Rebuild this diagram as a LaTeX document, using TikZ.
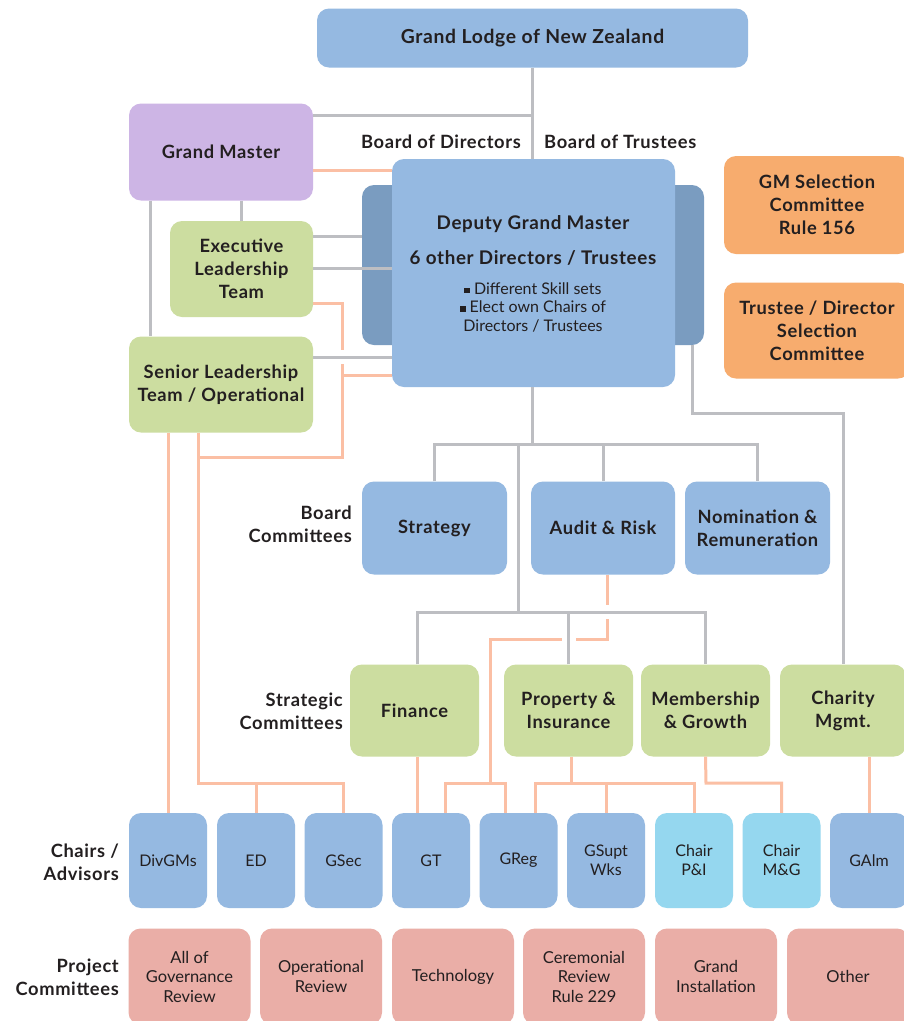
\documentclass[tikz,border=0pt]{standalone}
\usepackage{fontspec}
\setmainfont{Lato}[BoldFeatures={LetterSpace=3.5}]
\definecolor{cblue}{HTML}{95B9E1}
\definecolor{cdark}{HTML}{7A9CC0}
\definecolor{cpurp}{HTML}{CDB5E5}
\definecolor{cgreen}{HTML}{CCDDA0}
\definecolor{corange}{HTML}{F7AC6E}
\definecolor{ccyan}{HTML}{95D7EF}
\definecolor{cpink}{HTML}{EAAEA7}
\definecolor{cgrey}{HTML}{BDBEC2}
\definecolor{csalm}{HTML}{FBBFA4}
\definecolor{ctext}{HTML}{231F20}
\newcommand{\fs}[2]{\fontsize{#1}{#2}\selectfont}
\newcommand{\blt}{\rule[1pt]{5.5pt}{5.5pt}}
\begin{document}
\begin{tikzpicture}[x=1pt,y=-1pt,
  box/.style={rounded corners=12pt, inner sep=0pt, align=center, text=ctext},
  hd/.style={font=\bfseries\fs{18.3}{23}},
  ch/.style={font=\fs{16}{19}},
  pj/.style={font=\fs{16.5}{19.5}},
  lbl/.style={font=\bfseries\fs{18.3}{23}, text=ctext, inner sep=0pt},
  gl/.style={draw=cgrey, line width=3pt},
  sl/.style={draw=csalm, line width=3pt},
  hop/.style={draw=white, line width=14pt}]
\clip (0,0) rectangle (904,1021);
\fill[white] (0,0) rectangle (904,1021);

% back box of the board
\node[box, fill=cdark, minimum width=342pt, minimum height=160pt] (dgmback) at (533,265) {};

\coordinate (sa) at (342,457);
\coordinate (sb) at (198,783);
\coordinate (sc) at (490,783);
\coordinate (sd) at (571,783);
\coordinate (se) at (706,783);

% ---------- nodes ----------
\node[box, fill=cblue, minimum width=431pt, minimum height=59pt, font=\bfseries\fs{19.3}{22}] (glnz) at (532.5,38) {Grand Lodge of New Zealand};
\node[box, fill=cpurp, minimum width=184pt, minimum height=97pt, hd] (gm) at (221,152) {Grand Master};
\node[box, fill=cgreen, minimum width=143pt, minimum height=96pt, hd] (elt) at (241.5,269) {Executive\\Leadership\\Team};
\node[box, fill=cgreen, minimum width=184pt, minimum height=96pt, hd] (slt) at (221,384.5) {Senior Leadership\\Team / Operational};
\node[box, fill=cblue, minimum width=283pt, minimum height=228pt] (dgm) at (533.5,273) {};
\node[box, fill=corange, minimum width=186pt, minimum height=98pt, hd] (gmsel) at (817,205) {GM Selection\\Committee\\Rule 156};
\node[box, fill=corange, minimum width=186pt, minimum height=96pt, hd] (tdsel) at (817,330.5) {Trustee / Director\\Selection\\Committee};

\node[box, fill=cblue, minimum width=145pt, minimum height=93pt, hd] (strat) at (434.5,528) {Strategy};
\node[box, fill=cblue, minimum width=144pt, minimum height=93pt, hd] (audit) at (603,528) {Audit \& Risk};
\node[box, fill=cblue, minimum width=145pt, minimum height=93pt, hd] (nomin) at (757.5,528) {Nomination \&\\Remuneration};

\node[box, fill=cgreen, minimum width=129pt, minimum height=92pt, hd] (fin) at (414.5,710.5) {Finance};
\node[box, fill=cgreen, minimum width=129pt, minimum height=92pt, hd] (prop) at (568.5,710.5) {Property \&\\Insurance};
\node[box, fill=cgreen, minimum width=129pt, minimum height=92pt, hd] (memb) at (705.5,710.5) {Membership\\\& Growth};
\node[box, fill=cgreen, minimum width=126pt, minimum height=92pt, hd] (char) at (843,710.5) {Charity\\Mgmt.};

\foreach \n/\x/\c/\t in {divgm/168/cblue/DivGMs, ed/256/cblue/ED, gsec/343.5/cblue/GSec, gt/431/cblue/GT, greg/518.5/cblue/GReg, gsupt/606/cblue/GSupt\\Wks, cpi/694/ccyan/Chair\\P\&I, cmg/781.5/ccyan/Chair\\M\&G, galm/869/cblue/GAlm}
  \node[box, fill=\c, minimum width=78pt, minimum height=95pt, ch] (\n) at (\x,860.5) {\t};

\foreach \n/\x/\t in {p1/189.5/All of\\Governance\\Review, p2/321/Operational\\Review, p3/453/Technology, p4/584/Ceremonial\\Review\\Rule 229, p5/716/Grand\\Installation, p6/848/Other}
  \node[box, fill=cpink, minimum width=122pt, minimum height=96pt, pj] (\n) at (\x,976.5) {\t};

% ---------- salmon connectors ----------
\draw[sl] (gm.east |- 0,170) -- (dgm.west |- 0,170);
\draw[sl] (elt.east |- 0,303) -- (342,303) -- (sa) -| (slt.south -| 198,0);
\draw[sl] (342,375) -- (dgm.west |- 0,375);
\draw[sl] (slt.south -| 198,0) -- (sb) -| (gsec.north);
\draw[sl] (ed.north) -- (ed.north |- sb);
\draw[sl] (slt.south -| divgm.north) -- (divgm.north);
\draw[sl] (audit.south -| 607,0) -- (607,639) -| (sc);
\draw[sl] (gt.north -| 445,0) |- (sc) -| (greg.north -| 505,0);
\draw[sl] (fin.south -| 417,0) -- (gt.north -| 417,0);
\draw[sl] (prop.south -| sd) -- (sd);
\draw[sl] (greg.north -| 535,0) |- (sd) -| (cpi.north);
\draw[sl] (gsupt.north) -- (gsupt.north |- sd);
\draw[sl] (memb.south) -- (se) -| (cmg.north);
\draw[sl] (char.south -| 869,0) -- (galm.north -| 869,0);

% line hops (gaps where salmon crosses grey)
\draw[hop] (338,357) -- (346,357);
\draw[hop] (603,612) -- (611,612);
\draw[hop] (568.5,635) -- (568.5,643);

% ---------- grey connectors ----------
\coordinate (g1) at (532,444);
\coordinate (g2) at (518,444);
\coordinate (g3) at (518,612);
\coordinate (g4) at (692,413);
\draw[gl] (glnz.south -| 532,0) -- (dgm.north -| 532,0);
\draw[gl] (gm.east |- 0,115) -- (532,115);
\draw[gl] (gm.south -| elt.north) -- (elt.north);
\draw[gl] (gm.south -| 150,0) -- (slt.north -| 150,0);
\draw[gl] (elt.east |- 0,236) -- (dgmback.west |- 0,236);
\draw[gl] (elt.east |- 0,268) -- (dgm.west |- 0,268);
\draw[gl] (slt.east |- 0,357) -- (dgm.west |- 0,357);
\draw[gl] (dgm.south -| g1) -- (g1);
\draw[gl] (strat.north) -- (strat.north |- g1) -- (nomin.north |- g1) -- (nomin.north);
\draw[gl] (audit.north) -- (audit.north |- g1);
\draw[gl] (g2) -- (g3);
\draw[gl] (fin.north -| 417,0) -- (417,612) -- (memb.north |- g3) -- (memb.north);
\draw[gl] (prop.north) -- (prop.north |- g3);
\draw[gl] (dgmback.south -| g4) -- (g4) -- (char.north |- g4) -- (char.north);

% ---------- texts ----------
\node[lbl, anchor=east] (bod) at (521,141.5) {Board of Directors};
\node[lbl, anchor=west] (bot) at (544,141.5) {Board of Trustees};
\node[font=\bfseries\fs{18.8}{22}, text=ctext] (dgmt1) at (533,224) {Deputy Grand Master};
\node[font=\bfseries\fs{18.8}{22}, text=ctext] (dgmt2) at (533,258) {6 other Directors / Trustees};
\node[font=\fs{16}{18.5}, text=ctext, align=center] (dgmt3) at (533,307) {\blt\ Different Skill sets\\\blt\ Elect own Chairs of\\Directors / Trustees};
\node[lbl, anchor=east, align=right] (lbc) at (352,524) {Board\\Committees};
\node[lbl, anchor=east, align=right] (lsc) at (343,711.5) {Strategic\\Committees};
\node[lbl, anchor=east, align=right] (lca) at (119,862) {Chairs /\\Advisors};
\node[lbl, anchor=east, align=right] (lpc) at (119,977.5) {Project\\Committees};
\end{tikzpicture}
\end{document}
